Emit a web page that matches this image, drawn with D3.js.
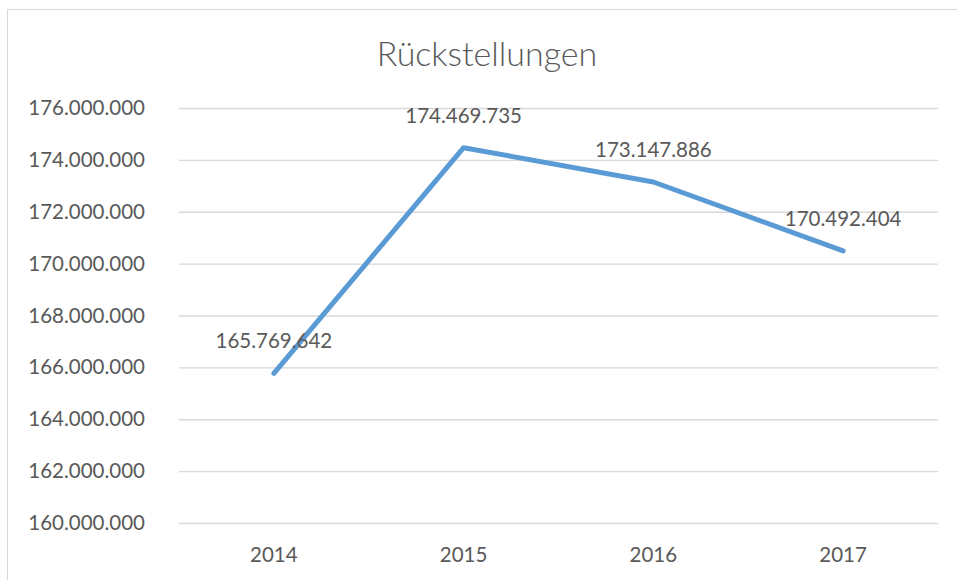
<!DOCTYPE html>
<html lang="de">
<head>
<meta charset="UTF-8">
<title>Rückstellungen</title>
<script src="https://d3js.org/d3.v7.min.js"></script>
<style>
    body { margin: 0; background: #fff; font-family: Lato, "Open Sans", sans-serif; }
    svg text { fill: #595959; }
</style>
</head>
<body>
<svg width="957" height="580"></svg>
<script>
    const years = ["2014", "2015", "2016", "2017"];
    const values = [165769642, 174469735, 173147886, 170492404];
    const yTicks = [160000000, 162000000, 164000000, 166000000, 168000000, 170000000, 172000000, 174000000, 176000000];

    const svg = d3.select("svg");
    const margin = { top: 108, right: 19, bottom: 57, left: 179 };
    const width = 957, height = 580;
    const fontSize = "20.5px";

    // chart border
    svg.append("rect")
        .attr("x", 7.5).attr("y", 9.5)
        .attr("width", 980).attr("height", 600)
        .attr("fill", "none").attr("stroke", "#d9d9d9");

    svg.append("text")
        .attr("x", 487).attr("y", 66)
        .attr("text-anchor", "middle")
        .style("font-size", "34px")
        .style("font-weight", 300)
        .text("Rückstellungen");

    const x = d3.scaleBand()
        .domain(years)
        .range([margin.left, width - margin.right]);

    const y = d3.scaleLinear()
        .domain([160000000, 176000000])
        .range([height - margin.bottom, margin.top]);

    const fmt = d3.formatLocale({ decimal: ",", thousands: ".", grouping: [3], currency: ["", "€"] }).format(",d");

    const yAxis = svg.append("g")
        .attr("transform", `translate(${margin.left},0)`)
        .call(d3.axisLeft(y).tickValues(yTicks).tickFormat(fmt)
            .tickSize(-(width - margin.left - margin.right)).tickPadding(0));
    yAxis.select(".domain").remove();
    yAxis.selectAll("line").attr("stroke", "#d9d9d9").attr("stroke-width", 1.3);
    yAxis.selectAll("text")
        .attr("x", -34)
        .style("font-size", fontSize).style("font-family", "Lato, sans-serif")
        .attr("fill", "#595959");

    const xAxis = svg.append("g")
        .attr("transform", `translate(0,${height - margin.bottom})`)
        .call(d3.axisBottom(x).tickSize(0).tickPadding(24));
    xAxis.select(".domain").remove();
    xAxis.selectAll("text")
        .style("font-size", fontSize).style("font-family", "Lato, sans-serif")
        .attr("fill", "#595959");

    const pts = years.map((yr, i) => ({ yr, v: values[i] }));
    const line = d3.line()
        .x(d => x(d.yr) + x.bandwidth() / 2)
        .y(d => y(d.v));

    svg.append("path")
        .datum(pts)
        .attr("fill", "none")
        .attr("stroke", "#5b9bd5")
        .attr("stroke-width", 5)
        .attr("stroke-linecap", "round")
        .attr("stroke-linejoin", "round")
        .attr("d", line);

    svg.selectAll(".lbl")
        .data(pts)
        .enter().append("text")
        .attr("class", "lbl")
        .attr("x", d => x(d.yr) + x.bandwidth() / 2)
        .attr("y", d => y(d.v) - 25)
        .attr("text-anchor", "middle")
        .style("font-size", fontSize)
        .text(d => fmt(d.v));
</script>
</body>
</html>
